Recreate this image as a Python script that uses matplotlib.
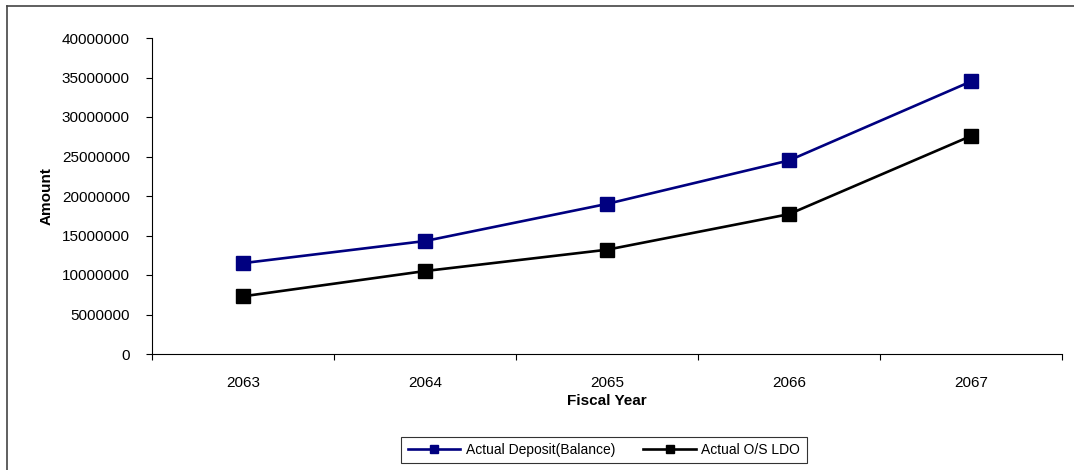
import matplotlib
matplotlib.use("Agg")
import matplotlib.pyplot as plt
from matplotlib.lines import Line2D

plt.rcParams['font.family'] = ['Liberation Sans', 'DejaVu Sans']

years = ["2063", "2064", "2065", "2066", "2067"]
deposit = [11500000, 14300000, 19000000, 24500000, 34500000]
ldo = [7300000, 10500000, 13200000, 17700000, 27600000]
series_names = ["Actual Deposit(Balance)", "Actual O/S LDO"]
yticks = [0, 5000000, 10000000, 15000000, 20000000, 25000000, 30000000, 35000000, 40000000]

fig = plt.figure(figsize=(10.74, 4.70), dpi=100)
ax = fig.add_axes([152/1074, 1-354/470, (1062-152)/1074, (354-38)/470])

x = list(range(len(years)))
ax.plot(x, deposit, color='#000080', lw=1.9, marker='s', ms=10.5, label=series_names[0])
ax.plot(x, ldo, color='black', lw=1.9, marker='s', ms=10.5, label=series_names[1])

ax.set_xlim(-0.5, len(years)-0.5)
ax.set_ylim(0, 40000000)
ax.set_yticks(yticks)
ax.set_yticklabels([str(v) for v in yticks], fontsize=11)
ax.set_xticks([i-0.5 for i in range(len(years)+1)])
ax.set_xticklabels([])
ax.set_xticks(x, minor=True)
ax.set_xticklabels(years, minor=True, fontsize=11)
ax.tick_params(axis='x', which='minor', length=0, pad=16)
ax.tick_params(axis='x', which='major', length=4, direction='out', width=0.8)
ax.tick_params(axis='y', length=4, direction='out', width=0.8, pad=12)

for s in ['top', 'right']:
    ax.spines[s].set_visible(False)
for s in ['left', 'bottom']:
    ax.spines[s].set_linewidth(0.8)
    ax.spines[s].set_color('black')

ax.set_xlabel("Fiscal Year", fontsize=11, fontweight='bold', labelpad=3)
ax.set_ylabel("Amount", fontsize=11, fontweight='bold', labelpad=6)

leg = fig.legend(loc='center', bbox_to_anchor=(604/1074, 1-450/470), ncol=2,
                 fontsize=10, frameon=True, fancybox=False, edgecolor='black',
                 handlelength=3.8, markerscale=0.55, columnspacing=2.0,
                 borderpad=0.45, handletextpad=0.4)
leg.get_frame().set_linewidth(0.8)

# outer chart border (top and left visible)
fig.add_artist(Line2D([7/1074, 7/1074], [0, 1-6/470], color='#444444', lw=1.2, transform=fig.transFigure))
fig.add_artist(Line2D([7/1074, 1], [1-6/470, 1-6/470], color='#444444', lw=1.2, transform=fig.transFigure))

fig.savefig("out.png", dpi=100)
